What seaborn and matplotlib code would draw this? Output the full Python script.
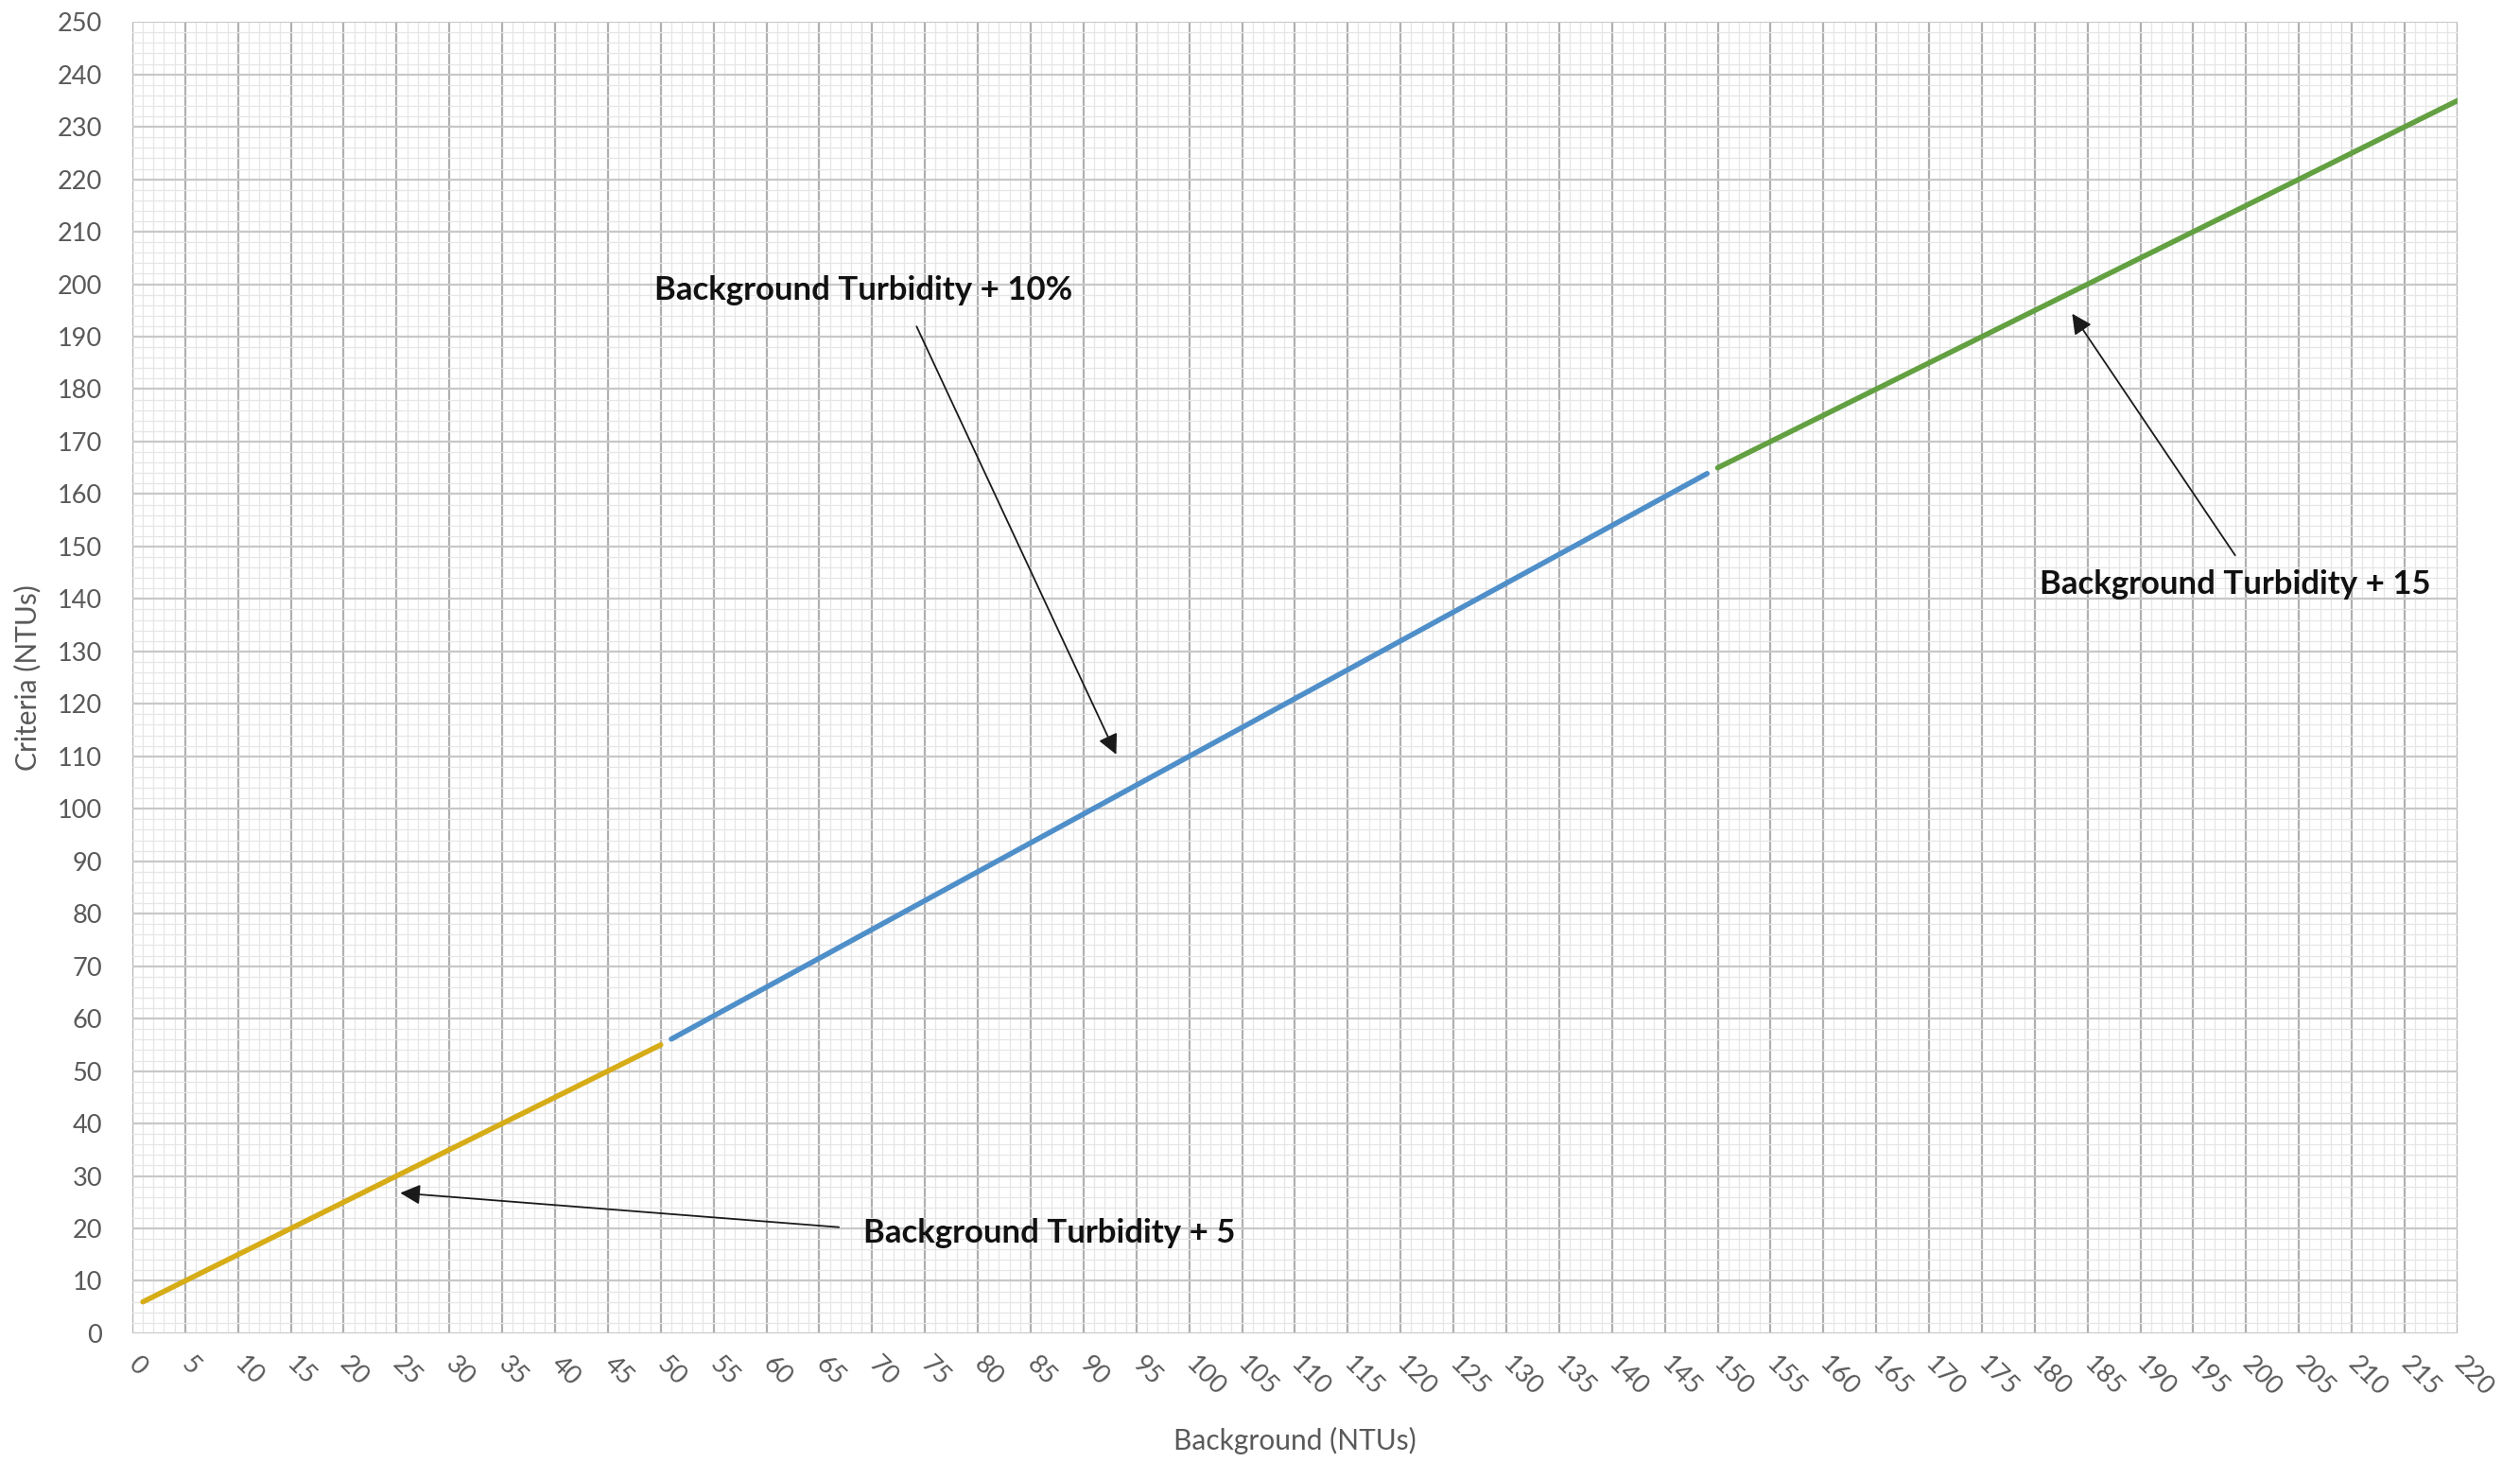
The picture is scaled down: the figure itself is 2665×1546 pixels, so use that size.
import pandas as pd
import matplotlib.pyplot as plt
from matplotlib.ticker import MultipleLocator
import seaborn as sns

# segment end points
seg_names = ["+5", "+10%", "+15"]
seg_x = [[1, 50], [51, 149], [150, 220]]
seg_y = [[6, 55], [56.1, 163.9], [165, 235]]
seg_colors = ["#D6AC17", "#4F8FC9", "#62A041"]

x_ticks = list(range(0, 225, 5))
y_ticks = list(range(0, 260, 10))

rows = []
for name, xs, ys in zip(seg_names, seg_x, seg_y):
    for x, y in zip(xs, ys):
        rows.append({"segment": name, "background": x, "criteria": y})
df = pd.DataFrame(rows)

sns.set_theme(style="white")
plt.rcParams["font.family"] = ["Lato", "DejaVu Sans"]

fig = plt.figure(figsize=(26.65, 15.46), dpi=100)
ax = fig.add_axes([0.0525, 0.088, 0.9227, 0.897])

sns.lineplot(data=df, x="background", y="criteria", hue="segment",
             palette=dict(zip(seg_names, seg_colors)), linewidth=4,
             legend=False, ax=ax, zorder=5)

ax.set_xlim(0, 220)
ax.set_ylim(0, 250)
ax.set_xticks(x_ticks)
ax.set_yticks(y_ticks)
ax.xaxis.set_minor_locator(MultipleLocator(1))
ax.yaxis.set_minor_locator(MultipleLocator(2))

ax.grid(which="minor", color="#e6e6e6", linewidth=0.9)
ax.grid(which="major", axis="y", color="#c8c8c8", linewidth=1.6)
ax.grid(which="major", axis="x", color="#b0b0b0", linewidth=1.6)
ax.set_axisbelow(True)
for s in ax.spines.values():
    s.set_visible(False)

ax.tick_params(axis="both", which="major", length=9, width=1.5, color="#b4b4b4",
               labelcolor="#595959", labelsize=19.5)
ax.tick_params(axis="y", pad=14)
ax.tick_params(axis="x", pad=12)
ax.tick_params(which="minor", length=0)
for lbl in ax.get_xticklabels():
    lbl.set_rotation(-45)
    lbl.set_ha("left")
    lbl.set_va("center")
    lbl.set_rotation_mode("anchor")

ax.set_xlabel("Background (NTUs)", fontsize=21.5, color="#595959", labelpad=20)
ax.set_ylabel("Criteria (NTUs)", fontsize=21.5, color="#595959", labelpad=12)

arrow = dict(arrowstyle="-|>", color="#1a1a1a", lw=1.3, mutation_scale=32)
ax.annotate("", xy=(93.2, 109.9), xytext=(74.1, 192.4), arrowprops=arrow, zorder=6)
ax.annotate("", xy=(183.4, 194.8), xytext=(199.1, 147.9), arrowprops=arrow, zorder=6)
ax.annotate("", xy=(25.1, 26.8), xytext=(67.1, 20.2), arrowprops=arrow, zorder=6)

txt = dict(fontsize=25, fontweight="bold", color="#111111", va="center", ha="left", zorder=7)
ax.text(49.4, 198.8, "Background Turbidity + 10%", **txt)
ax.text(180.5, 142.8, "Background Turbidity + 15", **txt)
ax.text(69.2, 19.1, "Background Turbidity + 5", **txt)

fig.savefig("out.png", dpi=100)
